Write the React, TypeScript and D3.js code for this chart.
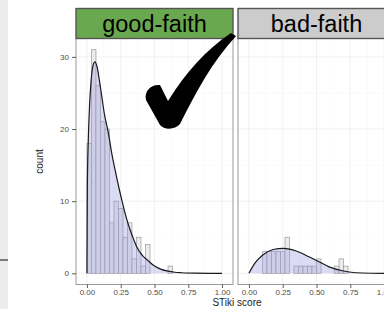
import React, { Component } from "react";
import * as d3 from "d3";

// facets and strip colours
const panels = ["good-faith", "bad-faith"];
const stripFills = ["#6aa84f", "#cccccc"];

// histogram: 30 bins over [0, 1], counts
const binWidth = 1 / 30;
const goodFaithCounts = [18, 31, 26, 21, 20, 7, 10, 9, 5, 7, 2, 5, 1, 4, 0, 0, 0, 0, 1];
const badFaithCounts = [0, 0, 0, 3, 3, 3, 3, 3, 5, 0, 1, 1, 1, 1, 1, 2, 0, 0, 0, 1, 2, 1];

// fitted density, scaled to counts
const goodCurveX = [0, 0.003, 0.01, 0.02, 0.03, 0.045, 0.059, 0.075, 0.09, 0.11, 0.13, 0.158, 0.185, 0.21, 0.235, 0.26, 0.29, 0.32, 0.35, 0.37, 0.41, 0.45, 0.5, 0.55, 0.6, 0.65, 0.7, 0.8, 0.9, 1.0];
const goodCurveY = [0, 12, 18.5, 23.5, 26.5, 28.8, 29.3, 28.6, 27, 24.5, 22, 19.5, 16.5, 14.2, 12, 10, 7.8, 6.0, 4.5, 3.6, 2.5, 1.8, 1.0, 0.55, 0.3, 0.15, 0.08, 0.02, 0.005, 0];
const badCurveX = [0, 0.044, 0.1, 0.18, 0.254, 0.3, 0.35, 0.444, 0.519, 0.593, 0.691, 0.79, 0.9, 1.0];
const badCurveY = [0, 1.4, 2.5, 3.3, 3.45, 3.35, 3.1, 2.3, 1.6, 0.9, 0.36, 0.08, 0.01, 0];

// axes
const xTicks = [0, 0.25, 0.5, 0.75, 1];
const xMinor = [0.125, 0.375, 0.625, 0.875];
const yTicks = [0, 10, 20, 30];
const yMinor = [5, 15, 25];

class App extends Component {
  svgRef = React.createRef<SVGSVGElement>();

  componentDidMount() {
    this.draw();
  }

  draw() {
    const width = 384;
    const height = 309;
    const font = "Liberation Sans, Arial, Helvetica, sans-serif";

    const panelTop = 38.5;
    const panelBottom = 284.5;
    const panelW = 157;
    const panelLefts = [76, 238];
    const stripTop = 8.5;

    const svg = d3.select(this.svgRef.current).attr("width", width).attr("height", height);
    svg.selectAll("*").remove();

    svg.append("rect").attr("width", width).attr("height", height).attr("fill", "#ffffff");
    // bit of the previous page on the left edge
    svg.append("rect").attr("x", 0).attr("y", 0).attr("width", 8).attr("height", height).attr("fill", "#ececec");
    svg.append("line").attr("x1", 0).attr("x2", 8).attr("y1", 260).attr("y2", 260)
      .attr("stroke", "#555").attr("stroke-width", 1.5);

    const yScale = d3.scaleLinear().domain([-1.55, 32.55]).range([panelBottom, panelTop]);

    const counts = [goodFaithCounts, badFaithCounts];
    const curves = [
      goodCurveX.map((x, i) => [x, goodCurveY[i]] as [number, number]),
      badCurveX.map((x, i) => [x, badCurveY[i]] as [number, number]),
    ];

    panels.forEach((name, p) => {
      const left = panelLefts[p];
      const xScale = d3.scaleLinear().domain([-0.081, 1.081]).range([left, left + panelW]);
      const g = svg.append("g");

      // panel background + grid
      g.append("rect").attr("x", left).attr("y", panelTop).attr("width", panelW)
        .attr("height", panelBottom - panelTop).attr("fill", "#ffffff");
      g.selectAll(".xminor").data(xMinor).join("line")
        .attr("x1", d => xScale(d)).attr("x2", d => xScale(d))
        .attr("y1", panelTop).attr("y2", panelBottom)
        .attr("stroke", "#f4f4f4").attr("stroke-width", 0.5);
      g.selectAll(".yminor").data(yMinor).join("line")
        .attr("x1", left).attr("x2", left + panelW)
        .attr("y1", d => yScale(d)).attr("y2", d => yScale(d))
        .attr("stroke", "#f4f4f4").attr("stroke-width", 0.5);
      g.selectAll(".xmajor").data(xTicks).join("line")
        .attr("x1", d => xScale(d)).attr("x2", d => xScale(d))
        .attr("y1", panelTop).attr("y2", panelBottom)
        .attr("stroke", "#ebebeb").attr("stroke-width", 0.7);
      g.selectAll(".ymajor").data(yTicks).join("line")
        .attr("x1", left).attr("x2", left + panelW)
        .attr("y1", d => yScale(d)).attr("y2", d => yScale(d))
        .attr("stroke", "#ebebeb").attr("stroke-width", 0.7);

      // histogram bars
      const bins = counts[p].map((c, i) => ({ x0: i * binWidth, x1: (i + 1) * binWidth, count: c }))
        .filter(d => d.count > 0);
      g.selectAll(".bar").data(bins).join("rect")
        .attr("x", d => xScale(d.x0))
        .attr("y", d => yScale(d.count))
        .attr("width", d => xScale(d.x1) - xScale(d.x0))
        .attr("height", d => yScale(0) - yScale(d.count))
        .attr("fill", "#ececec")
        .attr("stroke", "#9a9a9a")
        .attr("stroke-width", 0.7);

      // density
      const area = d3.area<[number, number]>()
        .x(d => xScale(d[0])).y0(yScale(0)).y1(d => yScale(d[1]))
        .curve(d3.curveMonotoneX);
      const line = d3.line<[number, number]>()
        .x(d => xScale(d[0])).y(d => yScale(d[1]))
        .curve(d3.curveMonotoneX);
      g.append("path").datum(curves[p]).attr("d", area)
        .attr("fill", "#9999e6").attr("fill-opacity", 0.35);
      g.append("path").datum(curves[p]).attr("d", line)
        .attr("fill", "none").attr("stroke", "#1a1a1a").attr("stroke-width", 1.2);

      // panel border
      g.append("rect").attr("x", left).attr("y", panelTop).attr("width", panelW)
        .attr("height", panelBottom - panelTop).attr("fill", "none")
        .attr("stroke", "#9a9a9a").attr("stroke-width", 1);

      // strip
      g.append("rect").attr("x", left).attr("y", stripTop).attr("width", panelW)
        .attr("height", panelTop - stripTop).attr("fill", stripFills[p])
        .attr("stroke", "#555555").attr("stroke-width", 1.4);
      g.append("text")
        .attr("x", left + panelW / 2).attr("y", 32)
        .attr("text-anchor", "middle")
        .style("font-family", font).style("font-size", "23.5px")
        .attr("fill", "#000")
        .text(name);

      // x axis
      const xAxis = d3.axisBottom(xScale).tickValues(xTicks).tickFormat(d3.format(".2f")).tickSize(3.5).tickPadding(1.5);
      const xg = g.append("g").attr("transform", `translate(0, ${panelBottom})`).call(xAxis);
      xg.select(".domain").remove();
      xg.selectAll(".tick line").attr("stroke", "#333").attr("stroke-width", 0.8);
      xg.selectAll(".tick text").attr("fill", "#4d4d4d").style("font-family", font).style("font-size", "8px");

      if (p === 0) {
        const yAxis = d3.axisLeft(yScale).tickValues(yTicks).tickSize(4).tickPadding(3);
        const yg = g.append("g").attr("transform", `translate(${left}, 0)`).call(yAxis);
        yg.select(".domain").remove();
        yg.selectAll(".tick line").attr("stroke", "#333").attr("stroke-width", 0.8);
        yg.selectAll(".tick text").attr("fill", "#4d4d4d").style("font-family", font).style("font-size", "8px");
      }
    });

    // axis titles
    svg.append("text")
      .attr("x", 237).attr("y", 306)
      .attr("text-anchor", "middle")
      .style("font-family", font).style("font-size", "10px")
      .attr("fill", "#1a1a1a")
      .text("STiki score");
    svg.append("text")
      .attr("transform", `rotate(-90)`)
      .attr("x", -161.5).attr("y", 43)
      .attr("text-anchor", "middle")
      .style("font-family", font).style("font-size", "10px")
      .attr("fill", "#1a1a1a")
      .text("count");

    // the big tick mark drawn over the good-faith panel
    svg.append("path")
      .attr("d", "M146,100 C144,91 151,84 160,85 L168,101 C186,72 206,50 231,33 L236,36 C212,62 196,92 180,124 C175,130 164,130 160,125 Z")
      .attr("fill", "#000");
  }

  render() {
    return (
      <svg ref={this.svgRef} style={{ position: "absolute", left: 0, top: 0, display: "block" }}></svg>
    );
  }
}

export default App;
